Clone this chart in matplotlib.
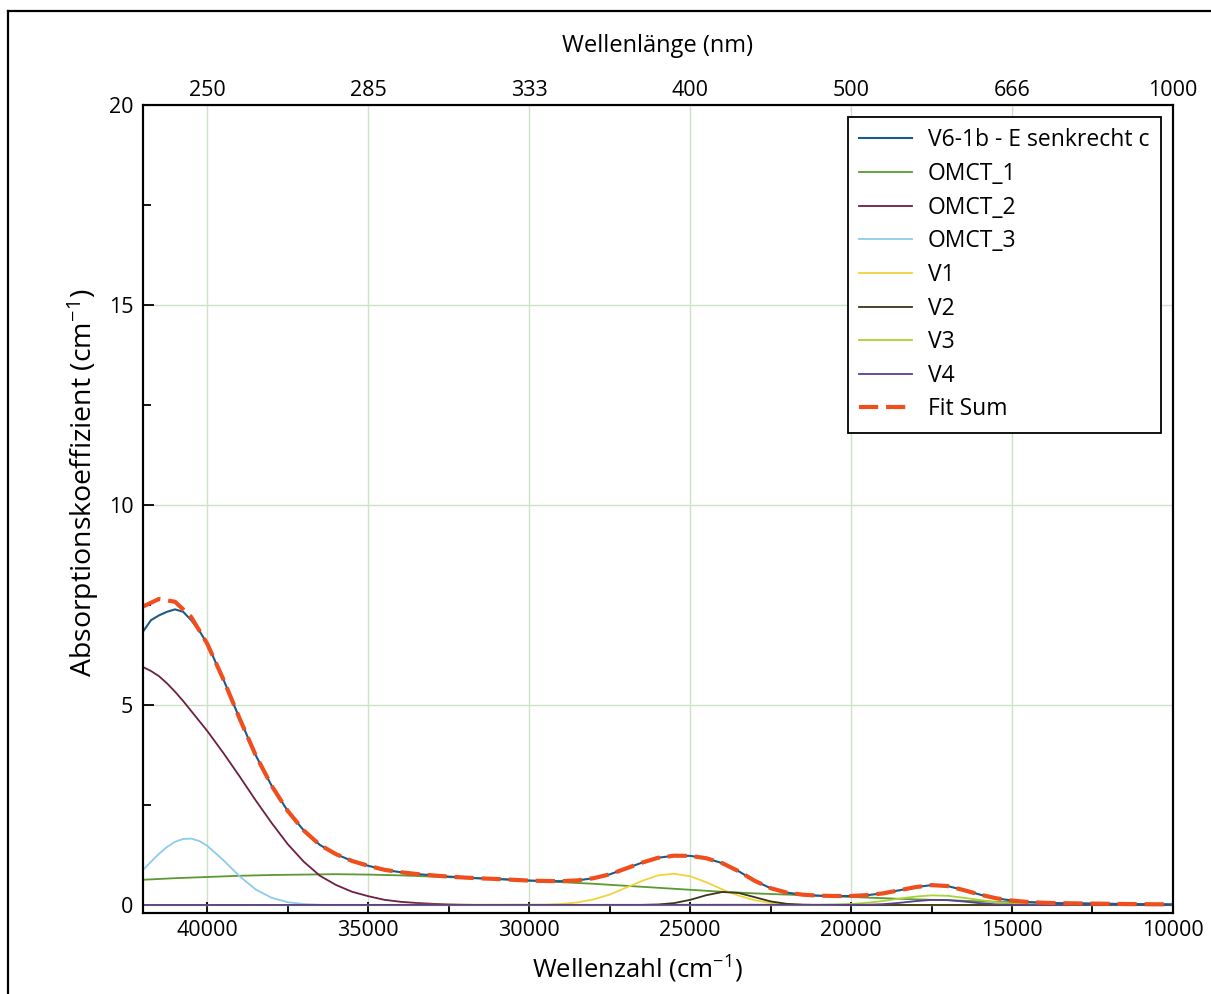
import matplotlib
matplotlib.use('Agg')
import matplotlib.pyplot as plt
from matplotlib.lines import Line2D
from matplotlib.ticker import MultipleLocator

plt.rcParams['font.family'] = ['Open Sans', 'DejaVu Sans']
plt.rcParams['mathtext.fontset'] = 'custom'
plt.rcParams['mathtext.rm'] = 'Open Sans'
plt.rcParams['mathtext.it'] = 'Open Sans'

# wavenumber grid in cm-1 (42000 -> 10000, step 500)
wn_full = list(range(42000, 9999, -500))

fit_sum = [7.46, 7.65, 7.58, 7.20, 6.53, 5.64, 4.67, 3.75, 2.98, 2.35,
           1.86, 1.50, 1.27, 1.10, 0.98, 0.88, 0.82, 0.775, 0.74, 0.71,
           0.685, 0.665, 0.65, 0.63, 0.61, 0.60, 0.596, 0.615, 0.67, 0.765,
           0.91, 1.057, 1.18, 1.232, 1.228, 1.169, 1.045, 0.847, 0.607, 0.42,
           0.31, 0.258, 0.233, 0.225, 0.225, 0.246, 0.291, 0.368, 0.446, 0.497,
           0.473, 0.372, 0.26, 0.169, 0.11, 0.075, 0.055, 0.045, 0.04, 0.035,
           0.03, 0.025, 0.02, 0.018, 0.015]

omct1 = [0.63, 0.65, 0.67, 0.685, 0.70, 0.715, 0.73, 0.74, 0.75, 0.755,
         0.76, 0.765, 0.77, 0.765, 0.76, 0.75, 0.74, 0.725, 0.71, 0.695,
         0.68, 0.665, 0.65, 0.63, 0.61, 0.59, 0.57, 0.55, 0.53, 0.505,
         0.48, 0.455, 0.43, 0.405, 0.38, 0.355, 0.33, 0.31, 0.29, 0.275,
         0.26, 0.245, 0.23, 0.215, 0.20, 0.185, 0.17, 0.155, 0.14, 0.13,
         0.12, 0.105, 0.09, 0.08, 0.07, 0.06, 0.05, 0.045, 0.04, 0.035,
         0.03, 0.025, 0.02, 0.018, 0.015]

# measured spectrum: own values on the high-energy edge, identical to the fit below 40000
wn_meas = [42000, 41750, 41500, 41250, 41000, 40750, 40500, 40250] + wn_full[4:]
measured = [6.83, 7.12, 7.24, 7.33, 7.39, 7.33, 7.12, 6.86] + fit_sum[4:]

wn_omct2 = [42000, 41750, 41500, 41250, 41000, 40750, 40500, 40250] \
    + list(range(40000, 31499, -500)) + [10000]
omct2 = [5.95, 5.85, 5.72, 5.54, 5.33, 5.10, 4.85, 4.60,
         4.35, 3.80, 3.22, 2.62, 2.05, 1.52, 1.08, 0.73, 0.50, 0.33,
         0.22, 0.13, 0.08, 0.05, 0.03, 0.015, 0.005, 0.0, 0.0]

wn_omct3 = [42000, 41750, 41500, 41250, 41000, 40750, 40500, 40250] \
    + list(range(40000, 35999, -500)) + [10000]
omct3 = [0.875, 1.08, 1.28, 1.45, 1.58, 1.65, 1.66, 1.60,
         1.48, 1.12, 0.72, 0.39, 0.18, 0.07, 0.023, 0.006, 0.0, 0.0]

wn_v1 = [42000] + list(range(29500, 20999, -500)) + [10000]
v1 = [0.0, 0.009, 0.026, 0.065, 0.14, 0.26, 0.43, 0.60, 0.74, 0.78, 0.72,
      0.57, 0.39, 0.235, 0.12, 0.055, 0.021, 0.007, 0.0, 0.0]

wn_v2 = [42000] + list(range(26500, 20999, -500)) + [10000]
v2 = [0.0, 0.002, 0.012, 0.047, 0.128, 0.244, 0.325, 0.302, 0.197, 0.09,
      0.029, 0.006, 0.0, 0.0]

wn_v3 = [42000] + list(range(21000, 13499, -500)) + [10000]
v3 = [0.0, 0.003, 0.01, 0.025, 0.055, 0.10, 0.16, 0.21, 0.24, 0.23, 0.18,
      0.125, 0.072, 0.035, 0.015, 0.005, 0.0, 0.0]

wn_v4 = [42000] + list(range(19500, 14499, -500)) + [10000]
v4 = [0.0, 0.006, 0.021, 0.053, 0.096, 0.127, 0.123, 0.087, 0.045, 0.017,
      0.005, 0.0, 0.0]

top_ticks = [40000, 35000, 30000, 25000, 20000, 15000, 10000]
top_labels = ['250', '285', '333', '400', '500', '666', '1000']

fig = plt.figure(figsize=(12.11, 9.94), dpi=100)
ax = fig.add_axes([0.118, 0.0815, 0.8506, 0.8129])

# outer frame (only left and top edges are visible in the original)
fig.add_artist(Line2D([0.0066, 0.0066], [0.0, 0.989], color='black', lw=1.6,
                      transform=fig.transFigure))
fig.add_artist(Line2D([0.0066, 1.0], [0.989, 0.989], color='black', lw=1.6,
                      transform=fig.transFigure))

lw = 1.3
ax.plot(wn_meas, measured, color='#1d5a88', lw=1.5, label='V6-1b - E senkrecht c', zorder=4)
ax.plot(wn_full, omct1, color='#5b9a32', lw=lw, label='OMCT_1', zorder=3)
ax.plot(wn_omct2, omct2, color='#6e1e44', lw=lw, label='OMCT_2', zorder=3)
ax.plot(wn_omct3, omct3, color='#8ccbee', lw=lw, label='OMCT_3', zorder=3)
ax.plot(wn_v1, v1, color='#f3d23c', lw=lw, label='V1', zorder=3)
ax.plot(wn_v2, v2, color='#3a3618', lw=lw, label='V2', zorder=3)
ax.plot(wn_v3, v3, color='#a9d334', lw=lw, label='V3', zorder=3)
ax.plot(wn_v4, v4, color='#5c3f8e', lw=lw, label='V4', zorder=3.5)
ax.plot(wn_full, fit_sum, color='#f04e1c', lw=3.0, dashes=(4.6, 1.9),
        label='Fit Sum', zorder=5)

ax.set_xlim(42000, 10000)
ax.set_ylim(-0.2, 20)
ax.xaxis.set_major_locator(MultipleLocator(5000))
ax.xaxis.set_minor_locator(MultipleLocator(2500))
ax.yaxis.set_major_locator(MultipleLocator(5))
ax.yaxis.set_minor_locator(MultipleLocator(2.5))
ax.grid(which='major', color='#cfe2c9', lw=1.0, zorder=0)
ax.set_axisbelow(True)

ax.tick_params(which='both', direction='in', top=False, right=False,
               width=1.3, labelsize=15.5)
ax.tick_params(which='major', length=8)
ax.tick_params(which='minor', length=5.5)
ax.tick_params(axis='x', pad=5)
ax.tick_params(axis='y', pad=7)
for s in ax.spines.values():
    s.set_linewidth(1.5)

ax.set_xlabel('Wellenzahl (cm$^{-1}$)', fontsize=18.5)
ax.set_ylabel('Absorptionskoeffizient (cm$^{-1}$)', fontsize=20.5)
ax.xaxis.set_label_coords(0.48, -0.05)
ax.yaxis.set_label_coords(-0.041, 0.533)

ax2 = ax.twiny()
ax2.set_xlim(ax.get_xlim())
ax2.set_xticks(top_ticks)
ax2.set_xticklabels(top_labels, fontsize=15.5)
ax2.tick_params(axis='x', length=0, pad=3)
ax2.set_xlabel('Wellenlänge (nm)', fontsize=17, labelpad=20)
for s in ax2.spines.values():
    s.set_linewidth(1.5)

leg = ax.legend(loc='upper right', bbox_to_anchor=(0.9587, 0.8823),
                bbox_transform=fig.transFigure, borderaxespad=0,
                fontsize=16.5, frameon=True, fancybox=False, framealpha=1,
                edgecolor='black', handlelength=2.3, handletextpad=0.7,
                labelspacing=0.42, borderpad=0.5)
leg.get_frame().set_linewidth(1.3)

fig.savefig('out.png', dpi=100)
